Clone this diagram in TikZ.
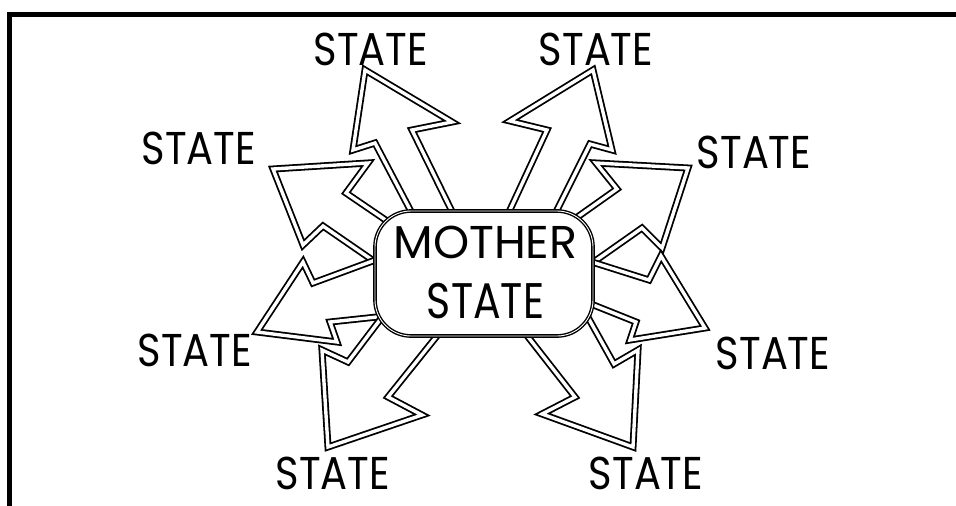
\documentclass[tikz,border=0pt]{standalone}
\usepackage{fontspec}
\setmainfont{Poppins}
\newcommand{\stlabel}[1]{\scalebox{0.87}[1]{#1}}
\begin{document}
\begin{tikzpicture}[x=1pt,y=-1pt,
  bolt/.style={draw=black, line width=1.8pt, double=white, double distance=3.4pt, fill=white, line join=miter},
  lbl/.style={font=\fontsize{46}{46}\selectfont, inner sep=0pt},
  motherbox/.style={draw=black, line width=1.4pt, double=white, double distance=0.9pt, fill=white, rounded corners=36pt, minimum width=218pt, minimum height=125pt, inner sep=0pt}]
\useasboundingbox (0,0) rectangle (956,506);
\fill[white] (0,0) rectangle (956,506);
% frame
\draw[line width=4.5pt] (9.5,506) -- (9.5,14.5) -- (956,14.5);
% side arrows
\draw[bolt] (273,169) -- (368,163) -- (346,193) -- (412,238) -- (397,277) -- (323,226) -- (303,245) -- cycle; % UL
\draw[bolt] (257,332) -- (303,262) -- (313,283) -- (397,252) -- (405,314) -- (330,322) -- (337,342) -- cycle; % LL
\draw[bolt] (688,168) -- (596,163) -- (617,189) -- (552,235) -- (568,280) -- (642,228) -- (662,248) -- cycle; % UR
\draw[bolt] (705,328) -- (661,256) -- (649,280) -- (573,256) -- (571,296) -- (636,322) -- (630,340) -- cycle; % LR
% top and bottom arrows
\draw[bolt] (426,240) -- (375,143) -- (353,150) -- (365,70) -- (452,122) -- (412,130) -- (466,240) -- cycle; % TL
\draw[bolt] (496,240) -- (547,130) -- (510,121) -- (593,70) -- (612,150) -- (590,144) -- (542,240) -- cycle; % TR
\draw[bolt] (328,447) -- (322,350) -- (348,362) -- (395,300) -- (457,311) -- (388,397) -- (422,415) -- cycle; % BL
\draw[bolt] (633,447) -- (542,414) -- (575,397) -- (507,310) -- (580,303) -- (614,364) -- (638,350) -- cycle; % BR
% mother state
\node[motherbox] (mother) at (484,273.5) {};
\node[lbl] (mtop) at (485.5,242) {MOTHER};
\node[lbl, font=\fontsize{50}{50}\selectfont] (mbot) at (485.5,301.5) {\scalebox{0.82}[1]{STATE}};
% labels
\node[lbl] (s1) at (371,49) {\stlabel{STATE}};
\node[lbl] (s2) at (596,49) {\stlabel{STATE}};
\node[lbl] (s3) at (199,148) {\stlabel{STATE}};
\node[lbl] (s4) at (754,152) {\stlabel{STATE}};
\node[lbl] (s5) at (195,350) {\stlabel{STATE}};
\node[lbl] (s6) at (773,353) {\stlabel{STATE}};
\node[lbl] (s7) at (333,473) {\stlabel{STATE}};
\node[lbl] (s8) at (646,473) {\stlabel{STATE}};
\end{tikzpicture}
\end{document}
